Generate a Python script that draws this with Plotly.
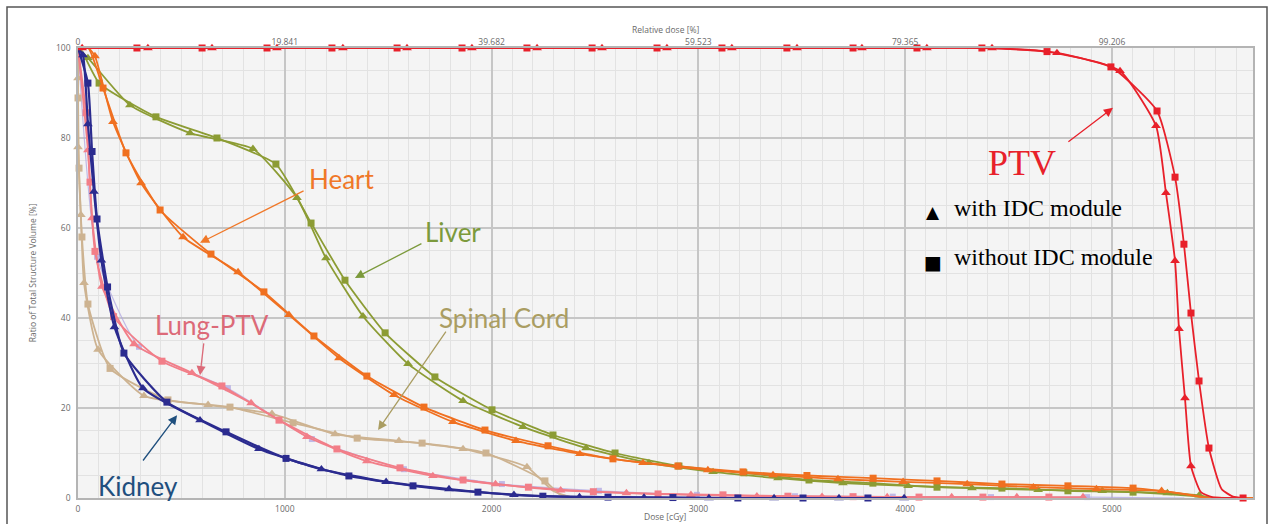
import plotly.graph_objects as go

# ---------------- data (dose in cGy, volume in %) ----------------
# PTV
ptv_sq_dose = [285, 600, 914, 1228, 1543, 1857, 2171, 2486, 2800, 3114, 3428, 3748, 4057, 4371, 4686, 4995, 5218, 5305, 5348, 5382, 5421, 5469, 5634]
ptv_sq_vol = [100, 100, 100, 100, 100, 100, 100, 100, 100, 100, 100, 100, 100, 100, 99.2, 95.8, 86.0, 71.3, 56.4, 41.1, 26.0, 11.1, 0]
ptv_sq_xd = [0, 5530, 5585]
ptv_sq_xv = [100, 2.0, 0.3]

ptv_tr_dose = [20, 338, 648, 962, 1281, 1591, 1905, 2220, 2534, 2848, 3162, 3477, 3791, 4105, 4420, 4734, 5039, 5213, 5261, 5305, 5324, 5353, 5382]
ptv_tr_vol = [100, 100, 100, 100, 100, 100, 100, 100, 100, 100, 100, 100, 100, 100, 100, 98.9, 94.9, 82.7, 67.8, 52.7, 37.6, 22.2, 7.1]
ptv_tr_xd = [0, 5430, 5485, 5634]
ptv_tr_xv = [100, 1.3, 0.2, 0]

# Heart
heart_sq_dose = [121, 232, 397, 643, 899, 1141, 1397, 1673, 1968, 2273, 2587, 2901, 3216, 3525, 3845, 4154, 4468, 4787, 5102]
heart_sq_vol = [91.1, 76.7, 64.0, 54.2, 45.8, 36.0, 27.1, 20.2, 15.1, 11.6, 8.7, 7.1, 5.8, 5.0, 4.4, 3.8, 3.1, 2.7, 2.2]
heart_sq_xd = [0, 50, 5320, 5440, 5682]
heart_sq_xv = [100, 100, 1.1, 0.2, 0]

heart_tr_dose = [82, 169, 305, 508, 774, 1020, 1262, 1528, 1813, 2118, 2427, 2732, 3046, 3361, 3675, 3990, 4300, 4620, 4925, 5240]
heart_tr_vol = [98.2, 83.6, 70.0, 58.0, 50.2, 40.7, 31.1, 22.9, 16.9, 12.7, 9.8, 7.8, 6.2, 5.1, 4.2, 3.6, 3.1, 2.4, 2.0, 1.6]
heart_tr_xd = [0, 50, 5350, 5440]
heart_tr_xv = [100, 100, 0.9, 0.2]

# Liver
liver_sq_dose = [102, 377, 672, 957, 1127, 1291, 1485, 1726, 2002, 2297, 2597, 2906, 3220, 3535, 3844, 4154, 4468, 4787, 5102]
liver_sq_vol = [92.2, 84.7, 80.0, 74.2, 61.1, 48.4, 36.7, 26.9, 19.6, 14.0, 10.0, 7.1, 5.6, 4.0, 3.3, 2.4, 2.2, 1.6, 1.3]
liver_sq_xd = [0, 10, 5400, 5480]
liver_sq_xv = [100, 100, 0.4, 0]

liver_tr_dose = [48, 251, 542, 846, 1059, 1199, 1378, 1596, 1862, 2152, 2457, 2761, 3071, 3385, 3699, 4014, 4323, 4643, 4953, 5268, 5422]
liver_tr_vol = [97.8, 87.3, 81.1, 77.6, 66.7, 53.3, 40.4, 29.8, 21.6, 15.8, 11.1, 7.8, 5.8, 4.4, 3.3, 2.7, 2.2, 1.8, 1.6, 1.1, 0.6]
liver_tr_xd = [0, 5480]
liver_tr_xv = [100, 0.1]

# Spinal Cord
spinal_sq_dose = [0, 5, 19, 48, 155, 435, 735, 1040, 1350, 1664, 1973, 2258]
spinal_sq_vol = [88.9, 73.3, 58.0, 43.1, 28.8, 21.8, 20.2, 16.7, 13.3, 12.2, 10.0, 3.8]
spinal_sq_xd = [0, 2330, 2410]
spinal_sq_xv = [100, 0.8, 0]

spinal_tr_dose = [0, 0, 14, 29, 97, 319, 629, 938, 1243, 1552, 1862, 2171]
spinal_tr_vol = [93.3, 78.0, 62.9, 47.8, 33.0, 22.7, 20.7, 18.7, 14.2, 12.7, 10.9, 6.9]
spinal_tr_xd = [0, 2300, 2400]
spinal_tr_xv = [100, 1.5, 0]

# Lung-PTV
lung_sq_dose = [39, 58, 82, 172, 406, 696, 972, 1252, 1557, 1862, 2178, 2492, 2805, 3119, 3433, 3748, 4067, 4376, 4695]
lung_sq_vol = [85.6, 70.2, 54.8, 40.3, 30.4, 24.9, 17.3, 10.9, 6.7, 4.0, 2.4, 1.4, 0.9, 0.7, 0.4, 0.3, 0.2, 0.2, 0.2]
lung_sq_xd = [0]
lung_sq_xv = [100]

lung_tr_dose = [48, 68, 116, 271, 551, 837, 1107, 1397, 1716, 2019, 2334, 2652, 2964, 3283, 3598, 3913, 4225, 4540, 4860]
lung_tr_vol = [77.3, 62.2, 47.0, 34.2, 27.8, 21.1, 13.6, 8.2, 4.9, 3.1, 1.7, 1.1, 0.7, 0.4, 0.3, 0.2, 0.2, 0.2, 0.2]
lung_tr_xd = [0]
lung_tr_xv = [100]

lung_ref_dose = [92, 295, 725, 1131, 1576, 2050, 2519, 2993, 3467, 3940, 4415, 4880]
lung_ref_vol = [53.6, 33.6, 24.4, 13.1, 6.4, 3.1, 1.6, 0.7, 0.4, 0.3, 0.2, 0.2]
lung_ref_xd = [0, 5350]
lung_ref_xv = [100, 0]

# Kidney
kidney_sq_dose = [48, 68, 92, 143, 222, 430, 716, 1006, 1310, 1620, 1934, 2248, 2563, 2877, 3191, 3506, 3820]
kidney_sq_vol = [92.2, 77.0, 62.0, 46.9, 32.2, 21.3, 14.7, 8.8, 4.9, 2.7, 1.3, 0.4, 0.2, 0.1, 0, 0, 0]
kidney_sq_xd = [0]
kidney_sq_xv = [100]

kidney_tr_dose = [24, 48, 77, 113, 176, 314, 590, 875, 1177, 1490, 1794, 2108, 2425, 2737, 3051, 3366, 3680, 3995]
kidney_tr_vol = [98.4, 83.1, 68.1, 52.8, 38.0, 24.4, 17.3, 10.9, 6.4, 3.6, 2.0, 0.7, 0.2, 0.1, 0, 0, 0, 0]
kidney_tr_xd = [0]
kidney_tr_xv = [100]

# axis ticks
x_ticks = [0, 1000, 2000, 3000, 4000, 5000]
x_tick_text = ["0", "1000", "2000", "3000", "4000", "5000"]
top_tick_text = ["0", "19.841", "39.682", "59.523", "79.365", "99.206"]
y_ticks = [0, 20, 40, 60, 80, 100]

# ---------------- figure ----------------
XMAX = 5682
fig = go.Figure()


def add_series(md, mv, xd, xv, color, symbol, width=1.8, msize=7, smoothing=0.5):
    pts = sorted(zip(list(md) + list(xd), list(mv) + list(xv)), key=lambda p: (p[0], -p[1]))
    fig.add_trace(go.Scatter(
        x=[p[0] for p in pts], y=[p[1] for p in pts], mode="lines",
        line=dict(color=color, width=width, shape="spline", smoothing=smoothing),
        cliponaxis=False, hoverinfo="skip", showlegend=False))
    fig.add_trace(go.Scatter(
        x=md, y=mv, mode="markers", cliponaxis=False,
        marker=dict(symbol=symbol, size=msize + (1.5 if symbol == "triangle-up" else 0),
                    color=color, line=dict(width=0)),
        hoverinfo="skip", showlegend=False))


RED = "#e8202a"
ORANGE = "#f07020"
OLIVE = "#8c9c34"
TAN = "#cdb391"
PINK = "#f27e88"
NAVY = "#2b2b8f"
LAV = "rgba(175,165,225,0.75)"

add_series(lung_ref_dose, lung_ref_vol, lung_ref_xd, lung_ref_xv, LAV, "square", width=1.2, msize=6)
add_series(spinal_sq_dose, spinal_sq_vol, spinal_sq_xd, spinal_sq_xv, TAN, "square")
add_series(spinal_tr_dose, spinal_tr_vol, spinal_tr_xd, spinal_tr_xv, TAN, "triangle-up")
add_series(lung_sq_dose, lung_sq_vol, lung_sq_xd, lung_sq_xv, PINK, "square")
add_series(lung_tr_dose, lung_tr_vol, lung_tr_xd, lung_tr_xv, PINK, "triangle-up")
add_series(liver_sq_dose, liver_sq_vol, liver_sq_xd, liver_sq_xv, OLIVE, "square")
add_series(liver_tr_dose, liver_tr_vol, liver_tr_xd, liver_tr_xv, OLIVE, "triangle-up")
add_series(heart_sq_dose, heart_sq_vol, heart_sq_xd, heart_sq_xv, ORANGE, "square")
add_series(heart_tr_dose, heart_tr_vol, heart_tr_xd, heart_tr_xv, ORANGE, "triangle-up")
add_series(kidney_sq_dose, kidney_sq_vol, kidney_sq_xd, kidney_sq_xv, NAVY, "square", width=2.2)
add_series(kidney_tr_dose, kidney_tr_vol, kidney_tr_xd, kidney_tr_xv, NAVY, "triangle-up", width=2.2)
add_series(ptv_sq_dose, ptv_sq_vol, ptv_sq_xd, ptv_sq_xv, RED, "square")
add_series(ptv_tr_dose, ptv_tr_vol, ptv_tr_xd, ptv_tr_xv, RED, "triangle-up")

# invisible trace to carry the top (relative dose) axis
fig.add_trace(go.Scatter(x=x_ticks, y=[0] * len(x_ticks), xaxis="x2", yaxis="y",
                         mode="markers", marker=dict(opacity=0), hoverinfo="skip", showlegend=False))

tickfont = dict(family="Open Sans, DejaVu Sans, sans-serif", size=8.5, color="#6a6a6a")
minor_x = dict(dtick=100, tick0=0, showgrid=True, gridcolor="#e2e2e2", gridwidth=1, ticks="")
minor_y = dict(dtick=5, tick0=0, showgrid=True, gridcolor="#e2e2e2", gridwidth=1, ticks="")

fig.update_layout(
    width=1272, height=524,
    margin=dict(l=78, r=19, t=48, b=26, autoexpand=False),
    paper_bgcolor="white", plot_bgcolor="#f4f4f4",
    showlegend=False,
    xaxis=dict(range=[0, XMAX], tickvals=x_ticks, ticktext=x_tick_text, showgrid=True,
               gridcolor="#c6c6c6", gridwidth=1.5, minor=minor_x, zeroline=False,
               showline=True, linecolor="#b4b4b4", linewidth=1.5, mirror=True,
               ticks="", ticklabelstandoff=2, tickfont=tickfont, automargin=False),
    xaxis2=dict(range=[0, XMAX], overlaying="x", side="top", anchor="y",
                tickvals=x_ticks, ticktext=top_tick_text, showgrid=False, zeroline=False,
                ticks="", tickfont=tickfont, showline=False, automargin=False),
    yaxis=dict(range=[0, 100], tickvals=y_ticks, showgrid=True, gridcolor="#c6c6c6",
               gridwidth=1.5, minor=minor_y, zeroline=False, showline=True,
               linecolor="#b4b4b4", linewidth=1.5, mirror=True, ticks="",
               ticklabelstandoff=4, tickfont=tickfont, automargin=False),
)

# axis titles
axfont = dict(family="Open Sans, DejaVu Sans, sans-serif", size=8.5, color="#6a6a6a")
fig.add_annotation(text="Dose [cGy]", xref="paper", yref="paper", x=0.5, y=-0.042,
                   xanchor="center", yanchor="middle", showarrow=False, font=axfont)
fig.add_annotation(text="Relative dose [%]", xref="paper", yref="paper", x=0.5, y=1.04,
                   xanchor="center", yanchor="middle", showarrow=False, font=axfont)
fig.add_annotation(text="Ratio of Total Structure Volume [%]", xref="paper", yref="paper",
                   x=-0.039, y=0.5, textangle=-90, xanchor="center", yanchor="middle",
                   showarrow=False, font=axfont)

# structure labels with arrows
lab_font = "Lato, Carlito, sans-serif"
labels = [
    ("Heart", 1277, 70.9, "#f07828", 1098, 68.4, 590, 56.7),
    ("Liver", 1813, 59.1, "#7c9a3c", 1668, 56.7, 1339, 48.9),
    ("Spinal Cord", 2060, 40.0, "#aa9d62", 1784, 37.3, 1451, 15.1),
    ("Lung-PTV", 648, 38.4, "#dc6a78", 609, 34.7, 590, 27.3),
    ("Kidney", 290, 2.6, "#1f4f7e", 309, 8.0, 479, 18.4),
]
for text, tx, ty, col, ax_, ay_, hx, hy in labels:
    fig.add_annotation(text=text, x=tx, y=ty, xref="x", yref="y", showarrow=False,
                       xanchor="center", yanchor="middle",
                       font=dict(family=lab_font, size=26, color=col))
    fig.add_annotation(text="", x=hx, y=hy, ax=ax_, ay=ay_, xref="x", yref="y",
                       axref="x", ayref="y", showarrow=True, arrowhead=2, arrowsize=1.4,
                       arrowwidth=1.3, arrowcolor=col)

# PTV label and arrow
fig.add_annotation(text="PTV", x=4565, y=74.4, xref="x", yref="y", showarrow=False,
                   xanchor="center", yanchor="middle",
                   font=dict(family="Liberation Serif, Times New Roman, serif", size=36, color=RED))
fig.add_annotation(text="", x=5005, y=86.7, ax=4782, ay=78.9, xref="x", yref="y",
                   axref="x", ayref="y", showarrow=True, arrowhead=2, arrowsize=1.4,
                   arrowwidth=1.3, arrowcolor=RED)

# marker key
serif = "Liberation Serif, Times New Roman, serif"
fig.add_annotation(text="▲", x=4134, y=63.6, xref="x", yref="y", showarrow=False,
                   xanchor="center", yanchor="middle",
                   font=dict(family="DejaVu Sans", size=17, color="black"))
fig.add_annotation(text="■", x=4134, y=52.4, xref="x", yref="y", showarrow=False,
                   xanchor="center", yanchor="middle",
                   font=dict(family="DejaVu Sans", size=19, color="black"))
fig.add_annotation(text="with IDC module", x=4226, y=64.4, xref="x", yref="y", showarrow=False,
                   xanchor="left", yanchor="middle", font=dict(family=serif, size=24, color="black"))
fig.add_annotation(text="without IDC module", x=4226, y=53.6, xref="x", yref="y", showarrow=False,
                   xanchor="left", yanchor="middle", font=dict(family=serif, size=24, color="black"))

# outer frame of the picture
fig.add_shape(type="rect", xref="paper", yref="paper",
              x0=(7 - 78) / 1175, x1=(1267 - 78) / 1175,
              y0=(498 - 540) / 450, y1=(498 - 7) / 450,
              line=dict(color="#555555", width=1.5), fillcolor="rgba(0,0,0,0)", layer="above")

fig.write_html("out.html", config={"displayModeBar": False},
               post_script="document.body.style.margin='0';document.body.style.padding='0';")
